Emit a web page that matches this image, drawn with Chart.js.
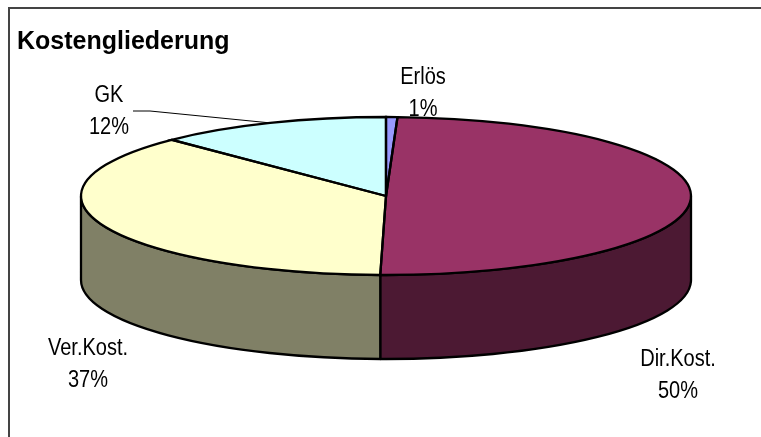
<!DOCTYPE html>
<html>
<head>
<meta charset="utf-8">
<style>
  html, body { margin: 0; background: #fff; }
  #wrap { position: relative; width: 761px; height: 437px; overflow: hidden; }
  #frame { position: absolute; left: 8px; top: 7px; width: 800px; height: 500px; border: 2px solid #444; }
  canvas { position: absolute; left: 0; top: 0; }
</style>
<script src="https://cdn.jsdelivr.net/npm/chart.js@4"></script>
</head>
<body>
<div id="wrap">
  <div id="frame"></div>
  <canvas id="pieChart" width="761" height="437"></canvas>
</div>
<script>
const categories = ['Erlös', 'Dir.Kost.', 'Ver.Kost.', 'GK'];
const shares = [0.6, 49.7, 37.3, 12.4];
const topColors = ['#9999ff', '#993366', '#ffffcc', '#ccffff'];
const sideColors = ['#4c4c80', '#4c1933', '#808066', '#668080'];

// flattened pie: where the top ellipse sits and how tall the wall is
const disc = { x: 386, y: 196, rx: 305, ry: 79, depth: 84 };
const rimWidth = 2.3;
const labelFont = '23px "Liberation Sans", Arial, sans-serif';
const labelSqueeze = 0.87; // the labels are tall and narrow in the original
const labelGap = 32;
// first-line centre of each label, same order as categories
const labelSpots = [[423, 78], [678, 360], [88, 349], [109, 96]];

function arcsOf(chart) {
  return chart.getDatasetMeta(0).data;
}

const pie3d = {
  id: 'pie3d',
  beforeDatasetsDraw(chart) {
    const ctx = chart.ctx;
    ctx.save();
    ctx.lineWidth = rimWidth;
    ctx.strokeStyle = '#000';
    ctx.lineJoin = 'round';
    arcsOf(chart).forEach((arc, i) => {
      const s = Math.max(arc.startAngle, 0);
      const e = Math.min(arc.endAngle, Math.PI);
      if (e <= s) return;
      ctx.beginPath();
      ctx.ellipse(disc.x, disc.y, disc.rx, disc.ry, 0, s, e);
      ctx.ellipse(disc.x, disc.y + disc.depth, disc.rx, disc.ry, 0, e, s, true);
      ctx.closePath();
      ctx.fillStyle = sideColors[i];
      ctx.fill();
      ctx.stroke();
    });
    ctx.restore();
  },
  beforeDatasetDraw(chart) {
    // squash the round pie into the ellipse
    const ctx = chart.ctx;
    const arc = arcsOf(chart)[0];
    ctx.save();
    ctx.translate(disc.x, disc.y);
    ctx.scale(disc.rx / arc.outerRadius, disc.ry / arc.outerRadius);
    ctx.translate(-arc.x, -arc.y);
  },
  afterDatasetDraw(chart) {
    const ctx = chart.ctx;
    ctx.restore();
    ctx.save();
    ctx.lineWidth = rimWidth;
    ctx.strokeStyle = '#000';
    arcsOf(chart).forEach(arc => {
      ctx.beginPath();
      ctx.moveTo(disc.x, disc.y);
      ctx.ellipse(disc.x, disc.y, disc.rx, disc.ry, 0, arc.startAngle, arc.endAngle);
      ctx.closePath();
      ctx.stroke();
    });
    ctx.restore();
  },
  afterDraw(chart) {
    const ctx = chart.ctx;
    ctx.save();
    // leader line for GK
    const gk = arcsOf(chart)[3];
    const mid = (gk.startAngle + gk.endAngle) / 2;
    ctx.lineWidth = 1;
    ctx.strokeStyle = '#000';
    ctx.beginPath();
    ctx.moveTo(133, 111);
    ctx.lineTo(150, 111);
    ctx.lineTo(disc.x + disc.rx * Math.cos(mid), disc.y + disc.ry * Math.sin(mid));
    ctx.stroke();

    ctx.font = labelFont;
    ctx.fillStyle = '#000';
    ctx.textAlign = 'center';
    ctx.textBaseline = 'middle';
    categories.forEach((name, i) => {
      const [x, y] = labelSpots[i];
      ctx.save();
      ctx.translate(x, y);
      ctx.scale(labelSqueeze, 1);
      ctx.fillText(name, 0, 0);
      ctx.fillText(Math.round(shares[i]) + '%', 0, labelGap);
      ctx.restore();
    });
    ctx.restore();
  }
};

new Chart(document.getElementById('pieChart'), {
  type: 'pie',
  data: {
    labels: categories,
    datasets: [{
      data: shares,
      backgroundColor: topColors,
      borderWidth: 0,
      clip: false
    }]
  },
  options: {
    responsive: false,
    animation: false,
    layout: { padding: { left: 17 } },
    plugins: {
      legend: { display: false },
      tooltip: { enabled: false },
      title: {
        display: true,
        text: 'Kostengliederung',
        align: 'start',
        color: '#000',
        font: { family: '"Liberation Sans", Arial, sans-serif', size: 25, weight: 'bold' },
        padding: { top: 27, bottom: 0 }
      }
    }
  },
  plugins: [pie3d]
});
</script>
</body>
</html>
